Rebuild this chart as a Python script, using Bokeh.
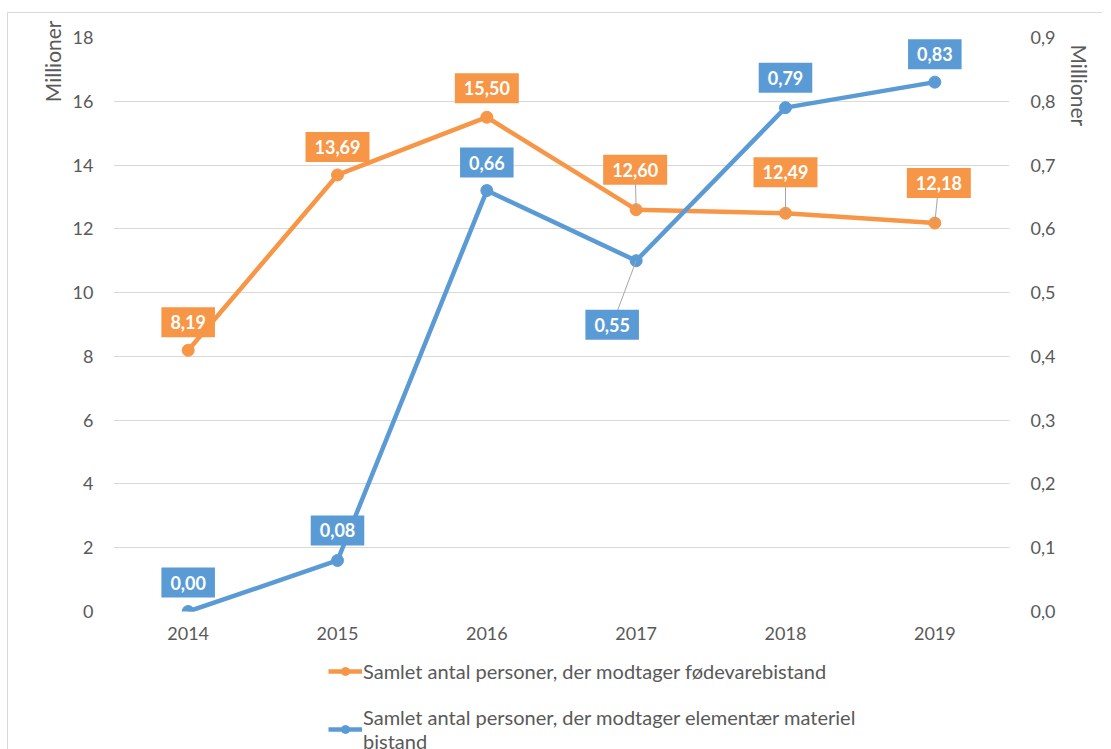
import math
from bokeh.plotting import figure
from bokeh.layouts import column
from bokeh.models import (ColumnDataSource, Range1d, LinearAxis, FactorRange, Legend,
                          LegendItem, FixedTicker, CustomJSTickFormatter, Title)
from bokeh.transform import dodge
from bokeh.embed import file_html
from bokeh.resources import INLINE
from bokeh.core.properties import value

# ---------------- data ----------------
years = ["2014", "2015", "2016", "2017", "2018", "2019"]
food_millions = [8.19, 13.69, 15.50, 12.60, 12.49, 12.18]
material_millions = [0.00, 0.08, 0.66, 0.55, 0.79, 0.83]
left_ticks = [0, 2, 4, 6, 8, 10, 12, 14, 16, 18]
right_ticks = [0.0, 0.1, 0.2, 0.3, 0.4, 0.5, 0.6, 0.7, 0.8, 0.9]
axis_title = "Millioner"
series_names = ["Samlet antal personer, der modtager fødevarebistand",
                "Samlet antal personer, der modtager elementær materiel\nbistand"]

# ---------------- style / layout ----------------
ORANGE = "#F79646"
BLUE = "#5B9BD5"
GRID = "#D9D9D9"
TXT = "#595959"
FONT = "Lato"
FRAME_W, FRAME_H = 899, 574
LEFT_MAX, RIGHT_MAX = 18, 0.9
PX_X = FRAME_W / len(years)
PX_L = FRAME_H / LEFT_MAX
PX_R = FRAME_H / RIGHT_MAX

# label offsets (screen px) relative to each point
food_dx = [0, 0, 0, -1, 0, 4]
food_dy = [-28, -28, -29, -40, -41, -40]
mat_dx = [0, 0, 0, -24, 0, 0]
mat_dy = [-29, -30, -28, 64, -30, -28]
food_leader = [False, False, False, True, True, True]
mat_leader = [False, False, False, True, False, False]

fmt = lambda v: f"{v:.2f}".replace(".", ",")

src = ColumnDataSource(dict(
    year=years, food=food_millions, mat=material_millions,
    food_lbl=[fmt(v) for v in food_millions], mat_lbl=[fmt(v) for v in material_millions],
    food_dx=food_dx, food_dy=food_dy, mat_dx=mat_dx, mat_dy=mat_dy,
))

p = figure(x_range=FactorRange(*years, range_padding=0), y_range=Range1d(0, LEFT_MAX),
           width=1094, height=640, output_backend="svg", toolbar_location=None,
           min_border_left=105, min_border_right=90, min_border_top=24, min_border_bottom=42)
p.extra_y_ranges = {"right": Range1d(0, RIGHT_MAX)}
p.outline_line_color = None
p.background_fill_color = "white"
p.border_fill_color = "white"

# axes
p.yaxis.ticker = FixedTicker(ticks=left_ticks)
p.ygrid.ticker = FixedTicker(ticks=left_ticks)
p.ygrid.grid_line_color = GRID
p.ygrid.grid_line_width = 1
p.xgrid.grid_line_color = None

raxis = LinearAxis(y_range_name="right", ticker=FixedTicker(ticks=right_ticks),
                   formatter=CustomJSTickFormatter(code="return tick.toFixed(1).replace('.', ',');"))
p.add_layout(raxis, "right")

for ax in [p.xaxis[0], p.yaxis[0], raxis]:
    ax.axis_line_color = None
    ax.major_tick_line_color = None
    ax.minor_tick_line_color = None
    ax.major_tick_out = 0
    ax.major_tick_in = 0
    ax.major_label_text_font = FONT
    ax.major_label_text_font_size = "18px"
    ax.major_label_text_color = TXT
p.xaxis.major_label_standoff = 15
p.yaxis[0].major_label_standoff = 20
raxis.major_label_standoff = 21

# axis titles (near the top end, as in the original)
for side, align, off, so in [("left", "right", -17, 10), ("right", "left", 7, 17)]:
    p.add_layout(Title(text=axis_title, align=align, offset=off, standoff=so,
                       text_font=FONT, text_font_size="21px", text_font_style="normal",
                       text_color=TXT), side)

# leader lines
def leader_source(vals, dx, dy, flags, ppu):
    xs, ys, x2, y2 = [], [], [], []
    for yr, v, a, b, f in zip(years, vals, dx, dy, flags):
        if f:
            xs.append(yr); ys.append(v)
            x2.append(a / PX_X); y2.append(v - b / ppu)
    return dict(x0=xs, y0=ys, dxx=x2, y1=y2)

ls_food = leader_source(food_millions, food_dx, food_dy, food_leader, PX_L)
ls_mat = leader_source(material_millions, mat_dx, mat_dy, mat_leader, PX_R)

# lines
food_line = p.line("year", "food", source=src, line_color=ORANGE, line_width=4.5)
food_pts = p.scatter("year", "food", source=src, size=12, fill_color=ORANGE, line_color=ORANGE)
mat_line = p.line("year", "mat", source=src, line_color=BLUE, line_width=4.5, y_range_name="right")
mat_pts = p.scatter("year", "mat", source=src, size=12, fill_color=BLUE, line_color=BLUE,
                    y_range_name="right")

for ls, rn in [(ls_food, "default"), (ls_mat, "right")]:
    for i in range(len(ls["x0"])):
        s = ColumnDataSource(dict(x0=[ls["x0"][i]], y0=[ls["y0"][i]], y1=[ls["y1"][i]]))
        p.segment(x0="x0", y0="y0", x1=dodge("x0", ls["dxx"][i], range=p.x_range), y1="y1",
                  source=s, line_color="#A6A6A6", line_width=1, y_range_name=rn)

# data labels
common = dict(anchor="center", text_align="center", text_baseline="middle", text_color="white",
              text_font=value(FONT), text_font_style="bold", text_font_size="18px",
              padding=dict(left=9, right=9, top=8, bottom=8))
p.text("year", "food", text="food_lbl", source=src, x_offset="food_dx", y_offset="food_dy",
       background_fill_color=ORANGE, **common)
p.text("year", "mat", text="mat_lbl", source=src, x_offset="mat_dx", y_offset="mat_dy",
       background_fill_color=BLUE, y_range_name="right", **common)

# ---------------- legend strip below the chart ----------------
leg = figure(x_range=FactorRange(*years, range_padding=0), y_range=Range1d(100, 101),
             width=1094, height=96, output_backend="svg", toolbar_location=None,
             x_axis_type=None, y_axis_type=None, min_border=0)
leg.outline_line_color = None
leg.xgrid.grid_line_color = None
leg.ygrid.grid_line_color = None
l_food = leg.line("year", "food", source=src, line_color=ORANGE, line_width=4.5)
l_food_p = leg.scatter("year", "food", source=src, size=12, fill_color=ORANGE, line_color=ORANGE)
l_mat = leg.line("year", "food", source=src, line_color=BLUE, line_width=4.5)
l_mat_p = leg.scatter("year", "food", source=src, size=12, fill_color=BLUE, line_color=BLUE)

legend = Legend(items=[LegendItem(label=series_names[0], renderers=[l_food, l_food_p]),
                       LegendItem(label=series_names[1], renderers=[l_mat, l_mat_p])],
                location=(215, -4), orientation="vertical")
legend.label_text_font = FONT
legend.label_text_font_size = "20px"
legend.label_text_color = TXT
legend.glyph_width = 34
legend.glyph_height = 20
legend.label_standoff = 1
legend.spacing = 22
legend.padding = 0
legend.margin = 0
legend.border_line_color = None
legend.background_fill_alpha = 0
leg.add_layout(legend, "center")

page = column(p, leg, spacing=0)
page.styles = {"margin-top": "12px", "margin-left": "7px",
               "border-left": "1px solid #D9D9D9", "border-top": "1px solid #D9D9D9"}

open("out.html", "w").write(file_html(page, INLINE))
